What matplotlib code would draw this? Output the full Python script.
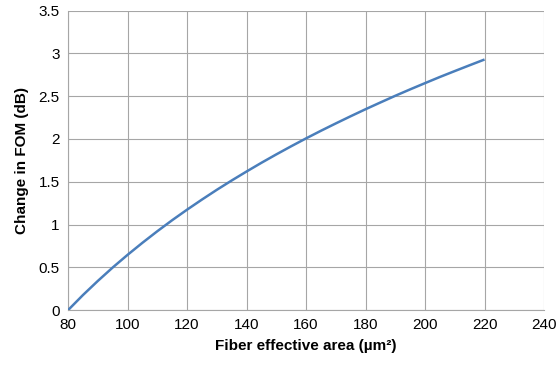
import matplotlib
matplotlib.use("Agg")
import matplotlib.pyplot as plt

area = [80, 85, 90, 95, 100, 105, 110, 115, 120, 125, 130, 135, 140, 145, 150,
        155, 160, 165, 170, 175, 180, 185, 190, 195, 200, 205, 210, 215, 220]
fom_change = [0.0, 0.176, 0.341, 0.498, 0.646, 0.787, 0.922, 1.051, 1.174, 1.292, 1.406,
              1.515, 1.620, 1.722, 1.820, 1.915, 2.007, 2.096, 2.182, 2.266, 2.348,
              2.427, 2.505, 2.580, 2.653, 2.725, 2.794, 2.862, 2.929]
xticks = [80, 100, 120, 140, 160, 180, 200, 220, 240]
yticks = [0, 0.5, 1, 1.5, 2, 2.5, 3, 3.5]
ytick_labels = ["0", "0.5", "1", "1.5", "2", "2.5", "3", "3.5"]

plt.rcParams['font.family'] = ['Liberation Sans', 'DejaVu Sans']

fig = plt.figure(figsize=(5.58, 3.67), dpi=100)
ax = fig.add_axes([0.122, 0.155, 0.853, 0.816])
ax.plot(area, fom_change, color='#4A7EBB', linewidth=1.8, solid_capstyle='butt',
        solid_joinstyle='round', zorder=3)
ax.set_xlim(80, 240)
ax.set_ylim(0, 3.5)
ax.set_xticks(xticks)
ax.set_yticks(yticks)
ax.set_yticklabels(ytick_labels)
ax.grid(True, color='#A6A6A6', linewidth=0.8)
ax.set_axisbelow(True)
for s in ['top', 'right']:
    ax.spines[s].set_visible(False)
for s in ['left', 'bottom']:
    ax.spines[s].set_color('#A6A6A6')
    ax.spines[s].set_linewidth(0.8)
ax.tick_params(axis='both', length=0, labelsize=11, pad=6, colors='black')
ax.set_xlabel('Fiber effective area (µm²)', fontsize=11, fontweight='bold', labelpad=5)
ax.set_ylabel('Change in FOM (dB)', fontsize=11, fontweight='bold', labelpad=7)
fig.savefig('out.png', dpi=100)
